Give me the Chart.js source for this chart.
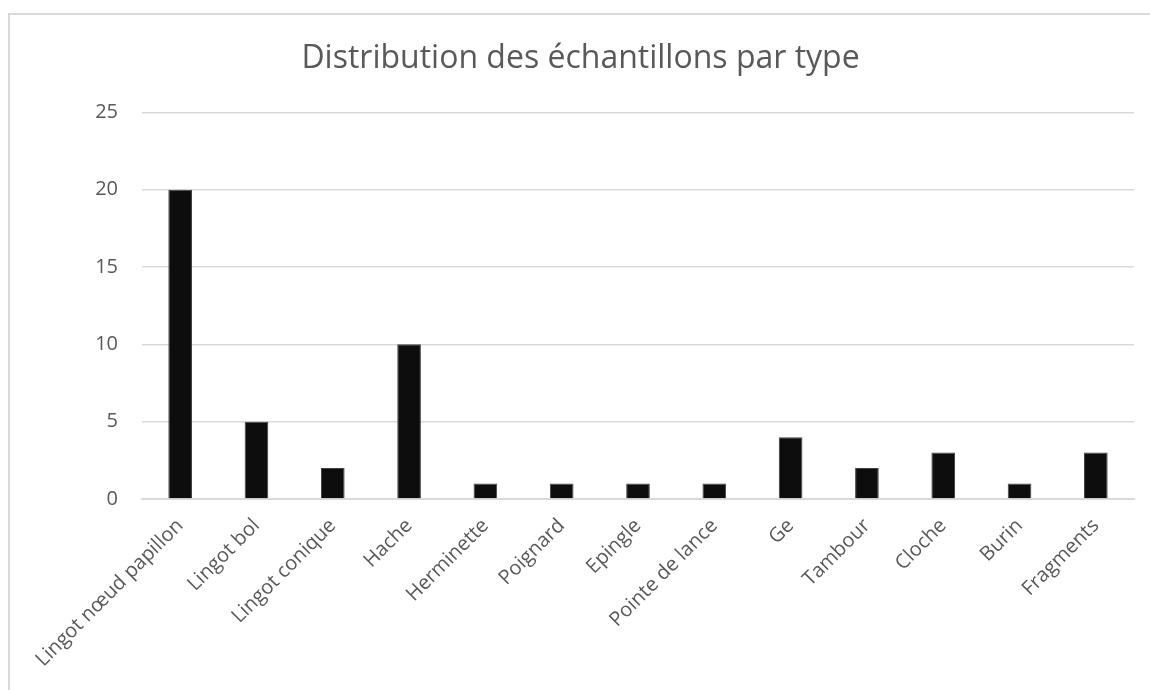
<!DOCTYPE html>
<html>
<head>
<meta charset="utf-8">
<script src="https://cdn.jsdelivr.net/npm/chart.js@4"></script>
<style>
  html, body { margin: 0; padding: 0; background: #ffffff; }
  #wrap { width: 1150px; height: 690px; position: relative; }
</style>
</head>
<body>
<div id="wrap"><canvas id="c" width="1150" height="690"></canvas></div>
<script>
const categories = ["Lingot nœud papillon", "Lingot bol", "Lingot conique", "Hache", "Herminette", "Poignard", "Epingle", "Pointe de lance", "Ge", "Tambour", "Cloche", "Burin", "Fragments"];
const counts = [20, 5, 2, 10, 1, 1, 1, 1, 4, 2, 3, 1, 3];
const titleText = "Distribution des échantillons par type";
const yMin = 0, yMax = 25, yStep = 5;

const borderPlugin = {
  id: 'outerBorder',
  beforeDraw(chart) {
    const ctx = chart.ctx;
    ctx.save();
    ctx.strokeStyle = '#d9d9d9';
    ctx.lineWidth = 2;
    ctx.strokeRect(9, 14, 1300, 900);
    ctx.restore();
  }
};

new Chart(document.getElementById('c'), {
  type: 'bar',
  data: {
    labels: categories,
    datasets: [{
      data: counts,
      backgroundColor: '#0d0d0d',
      borderColor: '#404040',
      borderWidth: 1,
      categoryPercentage: 1.0,
      barPercentage: 0.31
    }]
  },
  options: {
    responsive: false,
    animation: false,
    devicePixelRatio: 1,
    layout: { padding: { left: 27, right: 16, top: 40, bottom: 0 } },
    plugins: {
      legend: { display: false },
      tooltip: { enabled: false },
      title: {
        display: true,
        text: titleText,
        color: '#595959',
        font: { family: 'Open Sans', size: 32, weight: 'normal' },
        padding: { top: 0, bottom: 34 }
      }
    },
    scales: {
      x: {
        grid: { display: false, drawTicks: false },
        border: { display: true, color: '#d9d9d9', width: 2 },
        ticks: {
          color: '#595959',
          font: { family: 'Open Sans', size: 20 },
          minRotation: 45,
          maxRotation: 45,
          autoSkip: false,
          padding: 15
        },
        afterFit(scale) { scale.height = 191; }
      },
      y: {
        min: yMin,
        max: yMax,
        grid: { color: '#d9d9d9', lineWidth: 1.5, drawTicks: false },
        border: { display: false },
        ticks: {
          stepSize: yStep,
          color: '#595959',
          font: { family: 'Open Sans', size: 20 },
          padding: 24
        },
        afterFit(scale) { scale.width = 115; }
      }
    }
  },
  plugins: [borderPlugin]
});
</script>
</body>
</html>
